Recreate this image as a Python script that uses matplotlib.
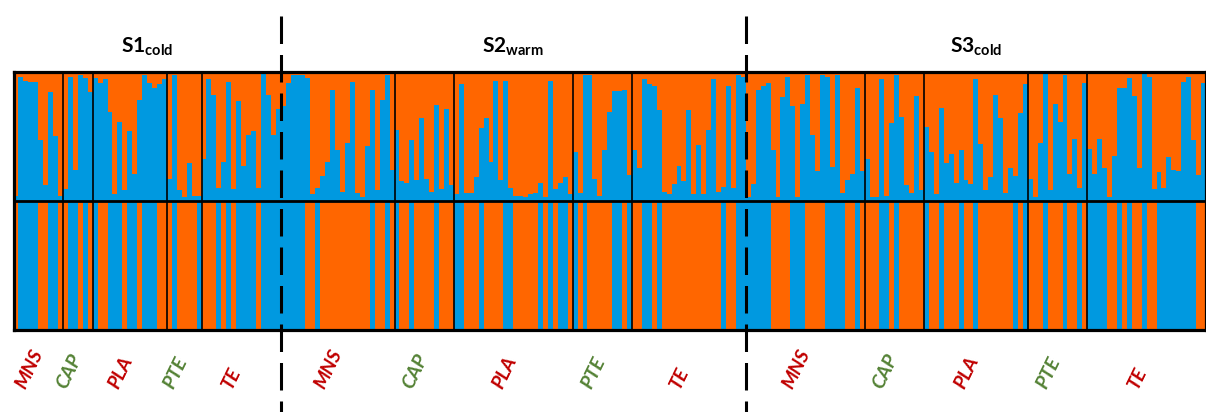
import matplotlib
matplotlib.use("Agg")
import matplotlib.pyplot as plt
import numpy as np

groups = ['MNS', 'CAP', 'PLA', 'PTE', 'TE']
group_colors = ['#C00000', '#548235', '#C00000', '#548235', '#C00000']
sites = ['S1', 'S2', 'S3']
site_subs = ['cold', 'warm', 'cold']

# individuals per group (MNS, CAP, PLA, PTE, TE) in each site
s1_sizes = [10, 6, 15, 7, 16]
s2_sizes = [23, 12, 24, 12, 23]
s3_sizes = [24, 12, 21, 12, 24]

# upper panel: share of the blue cluster per individual
s1_top = [0.04, 0.96, 0.93, 0.92, 0.92, 0.47, 0.12, 0.84, 0.50, 0.04,
          0.09, 0.96, 0.24, 0.97, 0.95, 0.84,
          0.95, 0.91, 0.94, 0.69, 0.05, 0.61, 0.08, 0.54, 0.21, 0.78, 0.97, 0.91, 0.87, 0.90, 0.94,
          0.17, 0.97, 0.08, 0.03, 0.29, 0.04, 0.04,
          0.32, 0.94, 0.82, 0.10, 0.30, 0.92, 0.09, 0.77, 0.27, 0.51, 0.54, 0.10, 0.98, 0.82, 0.51, 0.71]
s2_top = [0.73, 0.91, 0.97, 0.97, 0.97, 0.95, 0.05, 0.10, 0.19, 0.30, 0.86, 0.39, 0.07, 0.45, 0.92,
          0.06, 0.03, 0.42, 0.86, 0.08, 0.78, 0.97, 0.24,
          0.55, 0.15, 0.14, 0.47, 0.16, 0.64, 0.17, 0.07, 0.74, 0.09, 0.71, 0.12,
          0.05, 0.90, 0.06, 0.06, 0.18, 0.56, 0.64, 0.30, 0.93, 0.16, 0.93, 0.10, 0.04, 0.04, 0.03,
          0.05, 0.06, 0.14, 0.03, 0.93, 0.09, 0.14, 0.18, 0.05,
          0.38, 0.06, 0.97, 0.97, 0.17, 0.04, 0.39, 0.69, 0.85, 0.85, 0.86, 0.20,
          0.39, 0.25, 0.94, 0.90, 0.89, 0.70, 0.07, 0.05, 0.13, 0.27, 0.15, 0.70, 0.05, 0.43, 0.05,
          0.55, 0.94, 0.07, 0.11, 0.89, 0.10, 0.97, 0.96]
s3_top = [0.03, 0.13, 0.86, 0.89, 0.91, 0.39, 0.03, 0.80, 0.96, 0.73, 0.03, 0.75, 0.97, 0.51, 0.23,
          0.97, 0.96, 0.26, 0.97, 0.06, 0.16, 0.21, 0.87, 0.23,
          0.32, 0.03, 0.03, 0.94, 0.04, 0.60, 0.97, 0.65, 0.12, 0.06, 0.81, 0.08,
          0.57, 0.38, 0.05, 0.72, 0.29, 0.36, 0.14, 0.39, 0.16, 0.13, 0.94, 0.44, 0.08, 0.18, 0.82,
          0.64, 0.06, 0.25, 0.19, 0.68, 0.90,
          0.17, 0.03, 0.45, 0.98, 0.08, 0.75, 0.61, 0.97, 0.21, 0.48, 0.10, 0.91,
          0.40, 0.21, 0.48, 0.25, 0.03, 0.35, 0.87, 0.87, 0.95, 0.81, 0.25, 0.98, 0.96, 0.09, 0.22,
          0.10, 0.34, 0.24, 0.23, 0.92, 0.96, 0.47, 0.20, 0.91]

# lower panel: 1 = blue, 0 = orange
s1_bottom = [0, 1, 1, 1, 1, 0, 0, 1, 1, 0,
             0, 1, 1, 0, 1, 0,
             1, 0, 0, 1, 1, 1, 0, 1, 1, 0, 1, 1, 1, 0, 0,
             0, 1, 0, 0, 0, 0, 1,
             0, 0, 0, 1, 0, 1, 0, 1, 1, 1, 1, 0, 1, 1, 1, 1]
s2_bottom = [1, 1, 1, 1, 1, 0, 0, 1, 0, 0, 0, 0, 0, 0, 0, 0, 0, 0, 1, 0, 0, 1, 0,
             1, 0, 0, 1, 0, 0, 0, 0, 1, 0, 0, 0,
             1, 1, 0, 0, 0, 1, 0, 0, 0, 0, 1, 1, 0, 0, 0, 0, 0, 1, 0, 1, 0, 1, 1, 0,
             1, 0, 1, 0, 0, 0, 0, 0, 1, 1, 0, 1,
             0, 0, 1, 1, 0, 1, 0, 0, 0, 0, 0, 0, 0, 0, 0, 0, 0, 0, 1, 0, 0, 1, 1]
s3_bottom = [1, 1, 1, 1, 1, 0, 0, 0, 0, 1, 1, 1, 0, 0, 0, 0, 1, 1, 1, 1, 0, 0, 1, 0,
             0, 0, 0, 1, 1, 0, 1, 0, 0, 0, 0, 0,
             1, 0, 0, 1, 0, 0, 0, 1, 0, 0, 1, 0, 0, 0, 0, 0, 0, 0, 1, 0, 1,
             0, 0, 0, 1, 0, 0, 0, 1, 0, 0, 1, 0,
             1, 1, 1, 1, 0, 0, 1, 0, 1, 0, 0, 1, 0, 0, 1, 1, 1, 1, 1, 1, 1, 1, 0, 0]

blue = '#0099E0'
orange = '#FF6600'

plt.rcParams['mathtext.fontset'] = 'custom'
plt.rcParams['mathtext.rm'] = 'Lato'
plt.rcParams['mathtext.bf'] = 'Lato:bold'

top = np.array(s1_top + s2_top + s3_top)
bot = np.array(s1_bottom + s2_bottom + s3_bottom, dtype=float)
sizes = [s1_sizes, s2_sizes, s3_sizes]
x = np.arange(len(top))

fig = plt.figure(figsize=(12.06, 4.12), dpi=100)
ax = fig.add_axes([13.5 / 1206, 82 / 412, 1 - 13.5 / 1206, 258.5 / 412])

ax.bar(x, top, bottom=1, width=1, align='edge', color=blue, lw=0, antialiased=False)
ax.bar(x, 1 - top, bottom=1 + top, width=1, align='edge', color=orange, lw=0, antialiased=False)
ax.bar(x, bot, width=1, align='edge', color=blue, lw=0, antialiased=False)
ax.bar(x, 1 - bot, bottom=bot, width=1, align='edge', color=orange, lw=0, antialiased=False)

ax.set_xlim(0, len(top))
ax.set_ylim(0, 2)
ax.set_xticks([])
ax.set_yticks([])
for s in ax.spines.values():
    s.set_linewidth(2.3)
    s.set_color('black')
ax.axhline(1, color='black', lw=2.0)

trans = ax.get_xaxis_transform()
start = 0
for i, site_sizes in enumerate(sizes):
    # separators between groups
    pos = start
    for j, n in enumerate(site_sizes):
        c = pos + n / 2
        ax.text(c - 1.8, -0.236, groups[j], transform=trans, rotation=64, ha='center', va='bottom',
                color=group_colors[j], fontsize=14, fontweight='bold', fontstyle='italic', family='Lato')
        pos += n
        if j < len(site_sizes) - 1:
            ax.axvline(pos, color='black', lw=1.2)
    end = pos
    ax.text((start + end) / 2, 1.075, r'$\mathbf{%s}_{\mathbf{%s}}$' % (sites[i], site_subs[i]),
            transform=trans, ha='center', va='baseline', fontsize=15)
    # dashed line between sites
    if i < len(sizes) - 1:
        ax.plot([end, end], [1.215, -0.32], transform=trans, clip_on=False, color='black',
                lw=2.2, ls=(0, (9, 3.6)), zorder=5)
    start = end

fig.savefig('out.png', dpi=100)
